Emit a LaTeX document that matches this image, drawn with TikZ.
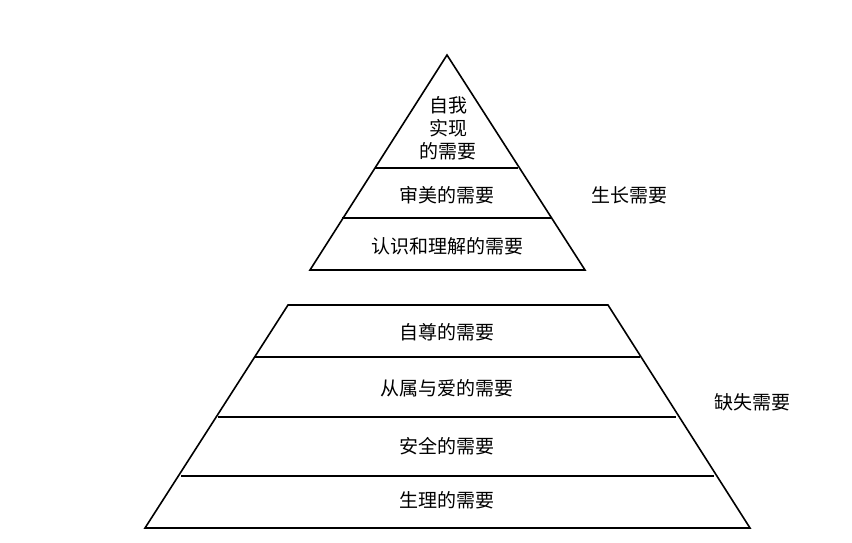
\documentclass[tikz,border=0pt]{standalone}
\usepackage{fontspec}
\setmainfont{Noto Sans CJK SC}
\begin{document}
\begin{tikzpicture}[x=1pt,y=-1pt,
  ln/.style={line width=1.6pt,line join=miter},
  lbl/.style={font=\fontsize{19}{22}\selectfont,inner sep=0pt}]
\useasboundingbox[fill=white] (0,0) rectangle (852,542);
% top pyramid
\draw[ln] (447,55) -- (585,270) -- (310,270) -- cycle;
\draw[ln] (375,168) -- (518,168);
\draw[ln] (342,218) -- (551,218);
% bottom trapezoid
\draw[ln] (288,305) -- (608,305) -- (750,528) -- (145,528) -- cycle;
\draw[ln] (255,357) -- (640,357);
\draw[ln] (218,417) -- (676,417);
\draw[ln] (181,476) -- (714,476);
% labels
\node[lbl,align=center,font=\fontsize{19}{23}\selectfont] (t1) at (448,128) {自我\\实现\\的需要};
\node[lbl] (t2) at (447,195) {审美的需要};
\node[lbl] (t3) at (447,246) {认识和理解的需要};
\node[lbl] (b1) at (447,332) {自尊的需要};
\node[lbl] (b2) at (447,388) {从属与爱的需要};
\node[lbl] (b3) at (447,446) {安全的需要};
\node[lbl] (b4) at (447,500) {生理的需要};
\node[lbl] (g) at (629,195) {生长需要};
\node[lbl] (d) at (752,402) {缺失需要};
\end{tikzpicture}
\end{document}
